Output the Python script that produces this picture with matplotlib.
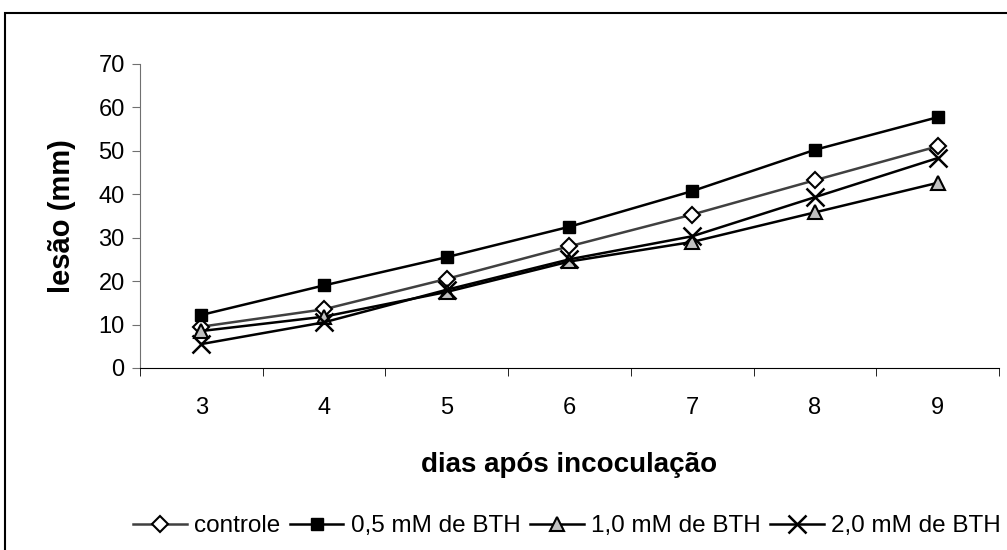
import matplotlib.pyplot as plt
from matplotlib.patches import Rectangle

plt.rcParams['font.family'] = ['Liberation Sans', 'DejaVu Sans']

dias = ['3', '4', '5', '6', '7', '8', '9']
controle = [9.5, 13.5, 20.5, 28, 35.3, 43.2, 51]
bth05 = [12.2, 19, 25.5, 32.5, 40.7, 50.2, 57.7]
bth10 = [8.5, 11.8, 17.5, 24.5, 29, 35.8, 42.6]
bth20 = [5.5, 10.5, 18, 25, 30.3, 39.3, 48.3]

fig = plt.figure(figsize=(10.07, 5.5), dpi=100)
ax = fig.add_axes([0.139, 0.331, 0.853, 0.553])

x = list(range(len(dias)))
ax.plot(x, controle, color='#404040', lw=1.8, marker='D', ms=8, mfc='white', mec='black', mew=1.5, label='controle')
ax.plot(x, bth05, color='black', lw=1.8, marker='s', ms=9, mfc='black', mec='black', label='0,5 mM de BTH')
ax.plot(x, bth10, color='black', lw=1.8, marker='^', ms=10, mfc='#c0c0c0', mec='black', mew=1.5, label='1,0 mM de BTH')
ax.plot(x, bth20, color='black', lw=1.8, marker='x', ms=13, mec='black', mew=1.8, label='2,0 mM de BTH')

ax.set_xlim(-0.5, 6.5)
ax.set_ylim(0, 70)
ax.set_yticks(range(0, 71, 10))
ax.tick_params(axis='y', labelsize=17, length=6, direction='out', color='#707070', pad=5)
ax.set_xticks(x)
ax.set_xticklabels(dias, fontsize=17)
ax.tick_params(axis='x', which='major', length=0, pad=21)
ax.set_xticks([i - 0.5 for i in range(len(dias) + 1)], minor=True)
ax.tick_params(axis='x', which='minor', length=6, direction='out')

ax.spines['top'].set_visible(False)
ax.spines['right'].set_visible(False)
ax.spines['left'].set_color('#707070')
ax.spines['bottom'].set_color('black')

ax.set_ylabel('lesão (mm)', fontsize=21, fontweight='bold', labelpad=16)
ax.set_xlabel('dias após incoculação', fontsize=20, fontweight='bold', labelpad=24)

fig.legend(loc='center', bbox_to_anchor=(0.563, 0.043), ncol=4, frameon=False,
           fontsize=17.5, handlelength=2.2, columnspacing=0.4, handletextpad=0.3)

fig.patches.append(Rectangle((5 / 1007, -0.1), 1.2, 1 - 13 / 550 + 0.1, transform=fig.transFigure,
                             fill=False, edgecolor='black', lw=1.5))

fig.savefig('out.png', dpi=100)
